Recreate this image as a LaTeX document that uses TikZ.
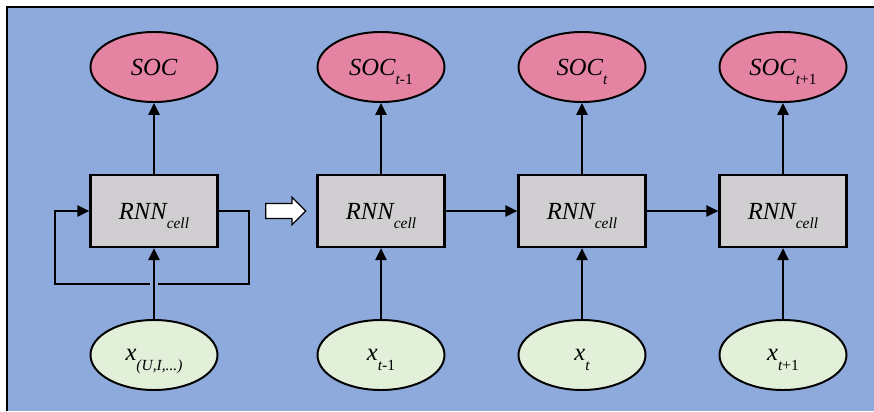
\documentclass[tikz,border=0pt]{standalone}
\usepackage{fontspec}
\setmainfont{Liberation Serif}
\usetikzlibrary{arrows.meta,shapes.geometric,shapes.arrows}

\definecolor{bgblue}{HTML}{8EAADC}
\definecolor{socpink}{HTML}{E584A2}
\definecolor{cellgray}{HTML}{D0CED0}
\definecolor{inputgreen}{HTML}{E2EFD9}

\newcommand{\lowsub}[1]{\raisebox{-7pt}[0pt][0pt]{\fontsize{11}{11}\selectfont #1}}

\tikzstyle{cell} = [rectangle, minimum width=3.175cm, minimum height=1.8cm, inner sep=0pt, text centered, draw=black, line width=1.6pt, fill=cellgray, font=\fontsize{17.5}{17.5}\selectfont\itshape]
\tikzstyle{soc} = [ellipse, minimum width=3.175cm, minimum height=1.75cm, inner sep=0pt, draw=black, line width=1.4pt, fill=socpink, font=\fontsize{17.5}{17.5}\selectfont\itshape]
\tikzstyle{input} = [ellipse, minimum width=3.175cm, minimum height=1.75cm, inner sep=0pt, draw=black, line width=1.4pt, fill=inputgreen, font=\fontsize{17.5}{17.5}\selectfont\itshape]
\tikzstyle{unfold} = [single arrow, draw=black, fill=white, line width=0.9pt, minimum height=1cm, inner sep=0.17cm, single arrow head extend=0.16cm]
\tikzstyle{line} = [line width=1.5pt]
\tikzstyle{arrow} = [line width=1.5pt, -{Triangle[length=0.3cm,width=0.28cm]}]

\begin{document}
\begin{tikzpicture}[node distance=3.6cm]
	\useasboundingbox (0,0) rectangle (21.85,-10.275);
	\fill [bgblue] (0.175,-0.175) rectangle (21.85,-10.275);
	\draw [line width=1pt] (0.175,-10.275) -- (0.175,-0.175) -- (21.85,-0.175);

	% folded cell
	\node (rnn1) [cell] at (3.85,-5.275) {RNN\lowsub{cell}};
	\node (soc1) [soc, above of=rnn1] {SOC};
	\node (x1) [input, below of=rnn1] {x\lowsub{(U,I,...)}};
	\node (fold) [unfold, right of=rnn1, xshift=-0.4cm] {};

	% unfolded cells
	\node (rnn2) [cell, right of=rnn1, xshift=2.075cm] {RNN\lowsub{cell}};
	\node (rnn3) [cell, right of=rnn2, xshift=1.425cm] {RNN\lowsub{cell}};
	\node (rnn4) [cell, right of=rnn3, xshift=1.425cm] {RNN\lowsub{cell}};
	\node (soc2) [soc, above of=rnn2] {SOC\lowsub{\textit{t}\upshape -1}};
	\node (soc3) [soc, above of=rnn3] {SOC\lowsub{\textit{t}}};
	\node (soc4) [soc, above of=rnn4] {SOC\lowsub{\textit{t}\upshape +1}};
	\node (x2) [input, below of=rnn2] {x\lowsub{\textit{t}\upshape -1}};
	\node (x3) [input, below of=rnn3] {x\lowsub{\textit{t}}};
	\node (x4) [input, below of=rnn4] {x\lowsub{\textit{t}\upshape +1}};

	\coordinate (loopR) at ([xshift=0.75cm]rnn1.east);
	\coordinate (gapR) at ([xshift=0.1cm, yshift=-0.9cm]rnn1.south);
	\coordinate (gapL) at ([xshift=-0.1cm, yshift=-0.9cm]rnn1.south);
	\coordinate (loopL) at ([xshift=-0.85cm]rnn1.west);

	\draw [line] (rnn1.east) -- (loopR) |- (gapR);
	\draw [arrow] (gapL) -| (loopL) -- (rnn1.west);

	\draw [arrow] (x1) -- (rnn1);
	\draw [arrow] (rnn1) -- (soc1);
	\draw [arrow] (x2) -- (rnn2);
	\draw [arrow] (rnn2) -- (soc2);
	\draw [arrow] (x3) -- (rnn3);
	\draw [arrow] (rnn3) -- (soc3);
	\draw [arrow] (x4) -- (rnn4);
	\draw [arrow] (rnn4) -- (soc4);
	\draw [arrow] (rnn2) -- (rnn3);
	\draw [arrow] (rnn3) -- (rnn4);
\end{tikzpicture}
\end{document}
